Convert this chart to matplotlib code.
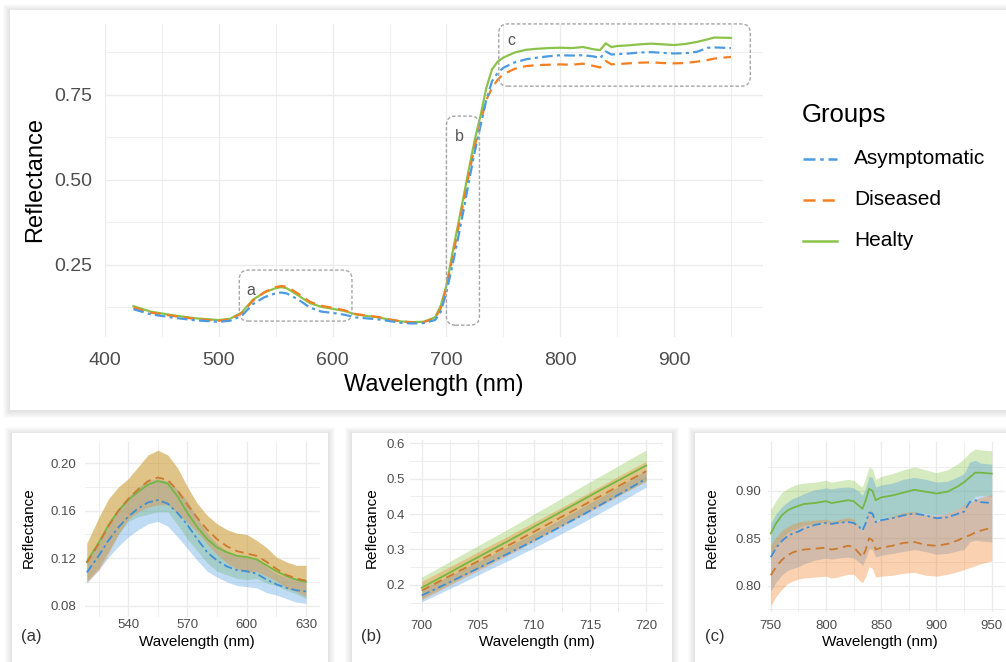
import numpy as np
import matplotlib
matplotlib.use("Agg")
import matplotlib.pyplot as plt
from matplotlib.patches import Rectangle, FancyBboxPatch
from matplotlib.lines import Line2D

plt.rcParams["font.family"] = ["Liberation Sans", "DejaVu Sans"]

W, H = 1006, 662

# ---------------- main spectrum (mean reflectance) ----------------
wl_main = [425, 440, 460, 480, 500, 510, 520, 530, 540, 550, 555, 560, 570, 580, 590,
           600, 610, 620, 630, 640, 650, 660, 670, 680, 690, 695, 700, 705, 710, 715,
           720, 725, 730, 735, 740, 745, 750, 760, 770, 780, 790, 800, 810, 820, 830,
           835, 840, 845, 850, 860, 870, 880, 890, 900, 910, 920, 930, 935, 950]
healthy_main = [0.129, 0.113, 0.102, 0.093, 0.088, 0.092, 0.110, 0.148, 0.169, 0.182, 0.185, 0.181, 0.160, 0.138, 0.127,
                0.121, 0.115, 0.105, 0.100, 0.096, 0.089, 0.084, 0.082, 0.083, 0.096, 0.130, 0.190, 0.280, 0.365, 0.450,
                0.537, 0.620, 0.690, 0.770, 0.825, 0.848, 0.860, 0.875, 0.883, 0.886, 0.888, 0.889, 0.888, 0.891, 0.884,
                0.882, 0.902, 0.891, 0.894, 0.896, 0.899, 0.901, 0.899, 0.897, 0.900, 0.906, 0.914, 0.919, 0.918]
asympt_main = [0.120, 0.105, 0.095, 0.087, 0.083, 0.086, 0.100, 0.135, 0.155, 0.167, 0.169, 0.166, 0.148, 0.125, 0.113,
               0.109, 0.104, 0.096, 0.093, 0.090, 0.085, 0.080, 0.078, 0.079, 0.088, 0.112, 0.170, 0.245, 0.325, 0.410,
               0.500, 0.585, 0.660, 0.735, 0.790, 0.815, 0.830, 0.846, 0.855, 0.860, 0.864, 0.867, 0.866, 0.867, 0.863,
               0.858, 0.878, 0.869, 0.870, 0.872, 0.875, 0.876, 0.874, 0.872, 0.873, 0.877, 0.889, 0.890, 0.888]
diseased_main = [0.125, 0.110, 0.100, 0.091, 0.086, 0.090, 0.108, 0.145, 0.170, 0.185, 0.188, 0.186, 0.165, 0.142, 0.130,
                 0.124, 0.117, 0.106, 0.101, 0.097, 0.090, 0.084, 0.081, 0.082, 0.093, 0.122, 0.185, 0.265, 0.350, 0.435,
                 0.522, 0.600, 0.670, 0.735, 0.770, 0.795, 0.811, 0.827, 0.835, 0.838, 0.839, 0.840, 0.839, 0.842, 0.835,
                 0.831, 0.850, 0.840, 0.841, 0.843, 0.845, 0.846, 0.844, 0.843, 0.844, 0.848, 0.853, 0.857, 0.862]

# zoom boxes on the main panel: (x0, x1, y0, y1, label)
box_a = (518, 617, 0.085, 0.235, "a")
box_b = (700, 729, 0.073, 0.688, "b")
box_c = (746, 967, 0.776, 0.959, "c")

# ---------------- panel (a) : 520-630 nm ----------------
wl_a = [519, 525, 530, 535, 540, 545, 550, 555, 560, 565, 570, 575, 580, 585, 590, 595, 600, 605, 610, 615, 620, 625, 630]
healthy_a = [0.117, 0.133, 0.148, 0.160, 0.169, 0.176, 0.182, 0.185, 0.183, 0.172, 0.158, 0.146, 0.136, 0.129, 0.125,
             0.122, 0.121, 0.119, 0.114, 0.109, 0.105, 0.102, 0.100]
diseased_a = [0.116, 0.132, 0.147, 0.160, 0.170, 0.178, 0.185, 0.188, 0.186, 0.177, 0.165, 0.154, 0.144, 0.136, 0.130,
              0.126, 0.124, 0.122, 0.117, 0.111, 0.106, 0.103, 0.101]
asympt_a = [0.108, 0.122, 0.135, 0.146, 0.155, 0.162, 0.167, 0.169, 0.166, 0.158, 0.148, 0.136, 0.125, 0.118, 0.113,
            0.110, 0.109, 0.107, 0.102, 0.098, 0.095, 0.093, 0.092]
healthy_a_sd = [0.016, 0.021, 0.022, 0.020, 0.018, 0.021, 0.025, 0.026, 0.024, 0.024, 0.022, 0.020, 0.020, 0.020, 0.019,
                0.019, 0.019, 0.016, 0.015, 0.012, 0.012, 0.012, 0.014]
diseased_a_sd = [0.016, 0.022, 0.023, 0.020, 0.017, 0.019, 0.022, 0.023, 0.021, 0.019, 0.015, 0.012, 0.012, 0.013, 0.014,
                 0.015, 0.016, 0.013, 0.012, 0.010, 0.011, 0.011, 0.013]
asympt_a_sd = [0.009, 0.012, 0.014, 0.016, 0.017, 0.018, 0.018, 0.018, 0.019, 0.020, 0.020, 0.018, 0.016, 0.014, 0.013,
               0.013, 0.013, 0.012, 0.011, 0.009, 0.009, 0.010, 0.010]

# ---------------- panel (b) : 700-720 nm ----------------
wl_b = [700, 702, 704, 706, 708, 710, 712, 714, 716, 718, 720]
healthy_b = [0.192, 0.226, 0.261, 0.295, 0.329, 0.364, 0.399, 0.434, 0.469, 0.503, 0.537]
diseased_b = [0.184, 0.217, 0.250, 0.283, 0.316, 0.350, 0.384, 0.418, 0.452, 0.487, 0.521]
asympt_b = [0.170, 0.200, 0.231, 0.262, 0.293, 0.325, 0.358, 0.392, 0.427, 0.463, 0.500]
healthy_b_sd = [0.030, 0.031, 0.032, 0.033, 0.034, 0.036, 0.037, 0.039, 0.040, 0.042, 0.044]
diseased_b_sd = [0.026, 0.026, 0.026, 0.027, 0.027, 0.027, 0.027, 0.027, 0.028, 0.028, 0.028]
asympt_b_sd = [0.018, 0.018, 0.019, 0.019, 0.020, 0.020, 0.021, 0.022, 0.022, 0.023, 0.024]

# ---------------- panel (c) : 750-950 nm ----------------
wl_c = [750, 755, 760, 765, 770, 775, 780, 790, 800, 805, 810, 820, 825, 830, 833, 836, 839, 842, 845, 850,
        860, 870, 880, 890, 900, 910, 920, 925, 930, 935, 940, 950]
healthy_c = [0.855, 0.866, 0.874, 0.879, 0.882, 0.884, 0.886, 0.887, 0.889, 0.887, 0.888, 0.890, 0.889, 0.884, 0.881,
             0.890, 0.902, 0.900, 0.890, 0.893, 0.895, 0.898, 0.901, 0.899, 0.897, 0.899, 0.905, 0.909, 0.914, 0.919,
             0.919, 0.918]
asympt_c = [0.830, 0.840, 0.847, 0.852, 0.855, 0.857, 0.860, 0.864, 0.866, 0.865, 0.866, 0.867, 0.866, 0.862, 0.858,
            0.866, 0.877, 0.876, 0.867, 0.869, 0.871, 0.874, 0.876, 0.874, 0.871, 0.872, 0.876, 0.878, 0.888, 0.890,
            0.888, 0.887]
diseased_c = [0.811, 0.820, 0.827, 0.832, 0.835, 0.837, 0.838, 0.839, 0.840, 0.838, 0.839, 0.842, 0.841, 0.834, 0.830,
              0.838, 0.850, 0.848, 0.838, 0.840, 0.842, 0.845, 0.846, 0.843, 0.842, 0.844, 0.848, 0.851, 0.853, 0.856,
              0.858, 0.861]
healthy_c_sd = [0.025, 0.024, 0.024, 0.023, 0.023, 0.023, 0.022, 0.022, 0.022, 0.022, 0.022, 0.022, 0.022, 0.022, 0.023,
                0.024, 0.023, 0.023, 0.022, 0.022, 0.023, 0.024, 0.024, 0.023, 0.022, 0.023, 0.024, 0.025, 0.026, 0.025,
                0.024, 0.024]
asympt_c_sd = [0.036, 0.036, 0.036, 0.036, 0.037, 0.037, 0.037, 0.037, 0.037, 0.037, 0.037, 0.037, 0.037, 0.037, 0.037,
               0.037, 0.038, 0.038, 0.037, 0.037, 0.037, 0.038, 0.038, 0.038, 0.038, 0.038, 0.039, 0.040, 0.042, 0.042,
               0.041, 0.041]
diseased_c_sd = [0.032, 0.031, 0.031, 0.030, 0.030, 0.030, 0.030, 0.030, 0.030, 0.030, 0.030, 0.030, 0.029, 0.028, 0.027,
                 0.028, 0.030, 0.030, 0.029, 0.030, 0.031, 0.032, 0.032, 0.032, 0.032, 0.032, 0.033, 0.034, 0.034, 0.035,
                 0.035, 0.035]

groups = ["Asymptomatic", "Diseased", "Healty"]
colors = {"Asymptomatic": "#4C9BE0", "Diseased": "#F57F20", "Healty": "#8BC34A"}
sub_line = {"Asymptomatic": "#3F8FD8", "Diseased": "#CC7A2E", "Healty": "#74B843"}
dashes = {"Asymptomatic": (4.8, 1.9, 1.4, 1.9), "Diseased": (4.8, 2.9), "Healty": None}

GRID = "#EBEBEB"
TICK = "#4D4D4D"

fig = plt.figure(figsize=(W / 100, H / 100), dpi=100)


def px_axes(l, t, r, b):
    ax = fig.add_axes([l / W, 1 - b / H, (r - l) / W, (b - t) / H])
    ax.set_facecolor("none")
    for s in ax.spines.values():
        s.set_visible(False)
    return ax


def card(l, t, r, b):
    for k in range(7, 0, -1):
        fig.patches.append(Rectangle(((l - k) / W, 1 - (b + k + 1) / H), (r - l + 2 * k) / W, (b - t + 2 * k) / H,
                                     transform=fig.transFigure, facecolor="black", alpha=0.016,
                                     edgecolor="none", zorder=-3))
    fig.patches.append(Rectangle((l / W, 1 - b / H), (r - l) / W, (b - t) / H, transform=fig.transFigure,
                                 facecolor="white", edgecolor="none", zorder=-2))


def ftext(x, y, s, **kw):
    fig.text(x / W, 1 - y / H, s, **kw)


def style_axes(ax, xmaj, xmin, ymaj, ymin, fs, xpad, ypad, yfmt):
    ax.set_xticks(xmaj)
    ax.set_xticks(xmin, minor=True)
    ax.set_yticks(ymaj)
    ax.set_yticks(ymin, minor=True)
    ax.set_yticklabels([yfmt.format(v) for v in ymaj])
    ax.grid(which="major", color=GRID, lw=1.0)
    ax.grid(which="minor", color=GRID, lw=0.6)
    ax.set_axisbelow(True)
    ax.tick_params(which="both", length=0, labelsize=fs, labelcolor=TICK)
    ax.tick_params(axis="x", pad=xpad)
    ax.tick_params(axis="y", pad=ypad)


# cards
card(10, 10, 1012, 410)
card(12, 433, 328, 668)
card(352, 433, 672, 668)
card(695, 433, 1012, 668)

# ---------------- main panel ----------------
ax = px_axes(105, 24, 762.7, 337)
ax.set_xlim(400, 977.9)
ax.set_ylim(0.0382, 0.9588)
style_axes(ax, [400, 500, 600, 700, 800, 900], [450, 550, 650, 750, 850, 950],
           [0.25, 0.50, 0.75], [0.125, 0.375, 0.625, 0.875], 14, 11, 9, "{:.2f}")
main_vals = {"Asymptomatic": asympt_main, "Diseased": diseased_main, "Healty": healthy_main}
for g in ["Healty", "Diseased", "Asymptomatic"]:
    ln, = ax.plot(wl_main, main_vals[g], color=colors[g], lw=1.6, zorder=3)
    if dashes[g]:
        ln.set_dashes(dashes[g])

for x0, x1, y0, y1, lab in [box_a, box_b, box_c]:
    p0 = ax.transData.transform((x0, y0)) / fig.dpi
    p1 = ax.transData.transform((x1, y1)) / fig.dpi
    fig.patches.append(FancyBboxPatch(tuple(p0), p1[0] - p0[0], p1[1] - p0[1],
                                      boxstyle="round,pad=0,rounding_size=0.09",
                                      transform=fig.dpi_scale_trans, facecolor="none",
                                      edgecolor="#A6A6A6", lw=1.0, linestyle=(0, (2.5, 1.5)), zorder=5))
    ax.text(x0 + 0.1 * (x1 - x0) if lab == "a" else x0 + 0.4 * (x1 - x0) if lab == "b" else x0 + 0.05 * (x1 - x0),
            y1 - (0.06 if lab != "c" else 0.05), lab, fontsize=11.5, color="#555555", ha="center", va="center")

ftext(35, 180, "Reflectance", rotation=90, fontsize=17, ha="center", va="center")
ftext(434, 385, "Wavelength (nm)", fontsize=17, ha="center", va="center")

# legend
ftext(802, 115, "Groups", fontsize=18.5, ha="left", va="center")
for g, yy in zip(groups, [159, 200, 241]):
    l = Line2D([803 / W, 837 / W], [1 - yy / H, 1 - yy / H], transform=fig.transFigure,
               color=colors[g], lw=1.8)
    if dashes[g]:
        l.set_dashes(dashes[g])
    fig.lines.append(l)
    ftext(854, yy, g, fontsize=15, ha="left", va="center")


# ---------------- sub panels ----------------
def sub_panel(box, xlim, ylim, wl, means, sds, xmaj, xmin, ymaj, ymin, yfmt, xpad, ypad, tag, tagx, ylabx, xlabx):
    a = px_axes(*box)
    a.set_xlim(*xlim)
    a.set_ylim(*ylim)
    style_axes(a, xmaj, xmin, ymaj, ymin, 9.5, xpad, ypad, yfmt)
    w = np.array(wl)
    for g in ["Healty", "Asymptomatic", "Diseased"]:
        m = np.array(means[g])
        s = np.array(sds[g])
        a.fill_between(w, m - s, m + s, color=colors[g], alpha=0.35, lw=0, zorder=2)
    for g in ["Healty", "Diseased", "Asymptomatic"]:
        ln, = a.plot(w, means[g], color=sub_line[g], lw=1.3, zorder=3)
        if dashes[g]:
            ln.set_dashes(dashes[g])
    ftext(ylabx, 528, "Reflectance", rotation=90, fontsize=11, ha="center", va="center")
    ftext(xlabx, 642, "Wavelength (nm)", fontsize=11, ha="center", va="center")
    ftext(tagx, 636, tag, fontsize=12, ha="left", va="center", color="#333333")
    return a


sub_panel((85, 441.7, 320, 616.7), (518.1, 637.1), (0.0707, 0.2182), wl_a,
          {"Asymptomatic": asympt_a, "Diseased": diseased_a, "Healty": healthy_a},
          {"Asymptomatic": asympt_a_sd, "Diseased": diseased_a_sd, "Healty": healthy_a_sd},
          [540, 570, 600, 630], [525, 555, 585, 615], [0.08, 0.12, 0.16, 0.20], [0.10, 0.14, 0.18],
          "{:.2f}", 2, 6, "(a)", 21, 29, 197)

sub_panel((410, 440, 663, 611.7), (698.96, 721.5), (0.1243, 0.609), wl_b,
          {"Asymptomatic": asympt_b, "Diseased": diseased_b, "Healty": healthy_b},
          {"Asymptomatic": asympt_b_sd, "Diseased": diseased_b_sd, "Healty": healthy_b_sd},
          [700, 705, 710, 715, 720], [702.5, 707.5, 712.5, 717.5],
          [0.2, 0.3, 0.4, 0.5, 0.6], [0.15, 0.25, 0.35, 0.45, 0.55],
          "{:.1f}", 6, 4, "(b)", 361, 372, 537)

sub_panel((768.3, 441.7, 1005, 611.7), (747.8, 962), (0.7726, 0.9516), wl_c,
          {"Asymptomatic": asympt_c, "Diseased": diseased_c, "Healty": healthy_c},
          {"Asymptomatic": asympt_c_sd, "Diseased": diseased_c_sd, "Healty": healthy_c_sd},
          [750, 800, 850, 900, 950], [775, 825, 875, 925],
          [0.80, 0.85, 0.90], [0.775, 0.825, 0.875, 0.925],
          "{:.2f}", 6, 5, "(c)", 705, 712, 880)

fig.savefig("out.png", dpi=100)
